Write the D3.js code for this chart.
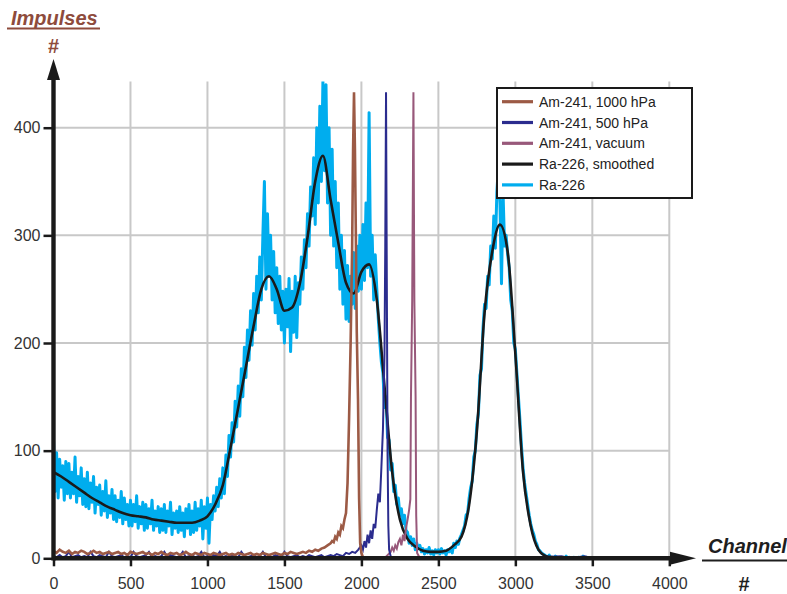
<!DOCTYPE html>
<html>
<head>
<meta charset="utf-8">
<script src="https://cdn.jsdelivr.net/npm/d3@7"></script>
<style>
  body { margin: 0; background: #fff; }
  svg { display: block; font-family: 'Liberation Sans', Arial, sans-serif; }
</style>
</head>
<body>
<svg id="chart"></svg>
<script>
// tick labels
const xTicks = [0, 500, 1000, 1500, 2000, 2500, 3000, 3500, 4000];
const yTicks = [0, 100, 200, 300, 400];

// Ra-226 raw spectrum, one value every 10 channels from 0
const raCounts = [
  110, 62, 98, 56, 92, 66, 86, 54, 90, 60,
  88, 56, 80, 60, 94, 52, 76, 58, 84, 50,
  74, 48, 80, 46, 70, 52, 76, 42, 66, 50,
  68, 40, 62, 44, 72, 38, 58, 42, 64, 36,
  58, 34, 54, 38, 62, 32, 56, 36, 50, 30,
  54, 30, 50, 34, 58, 28, 48, 32, 52, 26,
  50, 28, 46, 32, 54, 26, 44, 30, 48, 24,
  46, 26, 50, 24, 44, 30, 52, 22, 42, 28,
  44, 24, 48, 26, 42, 20, 46, 28, 50, 22,
  44, 24, 52, 26, 46, 30, 54, 18, 48, 28,
  56, 14, 50, 36, 58, 44, 66, 48, 74, 56,
  84, 60, 96, 76, 114, 94, 126, 108, 146, 122,
  160, 132, 176, 150, 196, 168, 212, 184, 230, 198,
  246, 212, 262, 228, 280, 240, 300, 350, 250, 320,
  262, 300, 240, 285, 228, 270, 218, 262, 212, 248,
  200, 250, 215, 260, 192, 248, 210, 262, 205, 256,
  236, 280, 250, 296, 270, 320, 290, 345, 318, 372,
  310, 400, 330, 420, 350, 443, 360, 440, 330, 400,
  300, 380, 290, 350, 270, 330, 250, 300, 236, 286,
  222, 272, 220, 262, 236, 284, 232, 290, 248, 300,
  250, 310, 258, 330, 270, 414, 262, 300, 240, 282,
  250, 222, 200, 182, 172, 140, 150, 112, 110, 82,
  88, 62, 68, 50, 56, 40, 46, 32, 40, 26,
  24, 14, 20, 12, 18, 8, 14, 9, 12, 6,
  9, 4, 8, 5, 10, 4, 7, 3, 8, 5,
  8, 4, 9, 5, 7, 3, 8, 6, 9, 5,
  14, 10, 16, 13, 19, 22, 26, 30, 40, 42,
  56, 66, 72, 94, 100, 124, 134, 170, 176, 214,
  236, 232, 262, 254, 290, 278, 318, 288, 340, 365,
  330, 255, 340, 290, 300, 282, 270, 240, 230, 200,
  194, 172, 150, 128, 104, 84, 70, 60, 50, 40,
  32, 26, 22, 16, 13, 8, 7, 5, 4, 3,
  2, 1, 3, 0, 1, 0, 2, 1, 0, 1,
  0, 1, 0, 2, 0, 1, 0, 0, 1, 0,
  0, 1, 0, 0, 2, 0, 1, 0, 0, 0
];
const raChannels = raCounts.map((_, i) => i * 10);

// Ra-226 smoothed, every 50 channels from 0
const smoothCounts = [
  80, 76, 71, 66, 61, 56, 52, 48, 45, 42,
  40, 39, 38, 36, 35, 34, 33, 33, 33, 35,
  39, 50, 68, 103, 140, 178, 216, 250, 262, 250,
  230, 233, 255, 298, 350, 374, 333, 293, 256, 246,
  266, 273, 240, 160, 80, 36, 18, 11, 7, 6,
  6, 7, 12, 20, 50, 118, 228, 285, 310, 285,
  190, 80, 30, 8, 2, 1, 0
];
const smoothChannels = smoothCounts.map((_, i) => i * 50);

// Am-241 at 1000 hPa
const am1000Channels = [
  0, 20, 40, 60, 80, 100, 120, 140, 160, 180, 200, 220, 240, 260, 280, 300, 320, 340, 360, 380,
  400, 420, 440, 460, 480, 500, 520, 540, 560, 580, 600, 620, 640, 660, 680, 700, 720, 740, 760, 780,
  800, 820, 840, 860, 880, 900, 920, 940, 960, 980, 1000, 1020, 1040, 1060, 1080, 1100, 1120, 1140, 1160, 1180,
  1200, 1220, 1240, 1260, 1280, 1300, 1320, 1340, 1360, 1380, 1400, 1420, 1440, 1460, 1480, 1500, 1520, 1540, 1560, 1580,
  1600, 1620, 1640, 1660, 1680, 1700, 1720, 1740, 1760, 1780,
  1800, 1810, 1820, 1830, 1840, 1850, 1860, 1870, 1880, 1890, 1900, 1910, 1920, 1930, 1940, 1946,
  1952, 1958, 1964, 1970, 1978, 1985, 1992, 2000, 2010, 2030
];
const am1000Counts = [
  7, 5, 8, 6, 5, 7, 4, 6, 5, 7, 6, 4, 5, 7, 5, 6, 4, 5, 6, 4,
  5, 6, 4, 5, 3, 6, 5, 4, 5, 6, 4, 5, 3, 5, 4, 6, 4, 3, 5, 4,
  5, 3, 4, 6, 4, 3, 5, 4, 3, 5, 4, 3, 5, 4, 3, 4, 5, 3, 4, 3,
  5, 4, 3, 4, 5, 3, 4, 3, 5, 4, 3, 4, 5, 4, 3, 5, 4, 6, 5, 4,
  5, 6, 5, 7, 6, 8, 7, 9, 10, 12,
  14, 16, 15, 20, 18, 24, 22, 30, 28, 36, 42, 70, 130, 200, 290, 380,
  433, 380, 300, 210, 148, 56, 14, 5, 1, 0
];

// Am-241 at 500 hPa
const am500Channels = [
  0, 20, 40, 60, 80, 100, 120, 140, 160, 180, 200, 220, 240, 260, 280, 300, 320, 340, 360, 380,
  400, 420, 440, 460, 480, 500, 520, 540, 560, 580, 600, 620, 640, 660, 680, 700, 720, 740, 760, 780,
  800, 820, 840, 860, 880, 900, 920, 940, 960, 980, 1000, 1020, 1040, 1060, 1080, 1100, 1120, 1140, 1160, 1180,
  1200, 1220, 1240, 1260, 1280, 1300, 1320, 1340, 1360, 1380, 1400, 1420, 1440, 1460, 1480, 1500, 1520, 1540, 1560, 1580,
  1600, 1620, 1640, 1660, 1680, 1700, 1720, 1740, 1760, 1780, 1800, 1820, 1840, 1860, 1880, 1900, 1920, 1940, 1960, 1980,
  2000, 2010, 2020, 2030, 2040, 2050, 2060, 2070, 2080, 2090, 2100, 2110, 2120, 2130, 2140, 2150,
  2155, 2160, 2165, 2170, 2175, 2180, 2190, 2200, 2400, 2700, 3000, 3300, 3350, 3400, 3450, 3500, 3600, 4000
];
const am500Counts = [
  2, 1, 3, 1, 2, 6, 1, 2, 3, 1, 2, 1, 6, 2, 1, 3, 2, 1, 6, 2,
  1, 2, 3, 1, 2, 1, 6, 2, 1, 2, 3, 6, 1, 2, 1, 2, 6, 1, 3, 2,
  1, 2, 6, 1, 2, 3, 1, 2, 6, 1, 2, 1, 3, 2, 6, 1, 2, 1, 3, 2,
  1, 6, 2, 1, 2, 3, 1, 2, 6, 1, 2, 1, 3, 2, 1, 6, 2, 1, 2, 3,
  1, 2, 1, 3, 2, 1, 2, 3, 1, 2, 3, 2, 4, 3, 2, 5, 4, 6, 5, 8,
  12, 8, 16, 10, 22, 14, 26, 18, 32, 28, 45, 60, 52, 85, 120, 190,
  290, 433, 260, 95, 30, 8, 2, 0, 1, 0, 0, 2, 0, 1, 2, 0, 1, 0
];

// Am-241 in vacuum
const amVacChannels = [
  2150, 2170, 2190, 2200, 2210, 2220, 2230, 2240, 2250, 2260, 2270, 2280, 2290, 2300, 2310, 2318,
  2322, 2330, 2338, 2344, 2352, 2356, 2362, 2380, 2400
];
const amVacCounts = [
  0, 3, 6, 10, 7, 12, 9, 15, 18, 12, 22, 16, 28, 36, 45, 55,
  150, 240, 433, 240, 150, 40, 5, 0, 0
];

const legendLabels = ['Am-241, 1000 hPa', 'Am-241, 500 hPa', 'Am-241, vacuum', 'Ra-226, smoothed', 'Ra-226'];
const legendColors = ['#9c5a45', '#2b2c8e', '#98587a', '#1a1a1a', '#00adee'];

const w = 787;
const h = 594;
const svg = d3.select('#chart').attr('width', w).attr('height', h);

const x = d3.scaleLinear().domain([0, 4000]).range([53.5, 669.3]);
const y = d3.scaleLinear().domain([0, 400]).range([558.3, 127.7]);
const yTop = y(443);

svg.append('defs').append('clipPath').attr('id', 'plot')
  .append('rect').attr('x', x(0)).attr('y', yTop).attr('width', x(4000) - x(0) + 30).attr('height', y(0) - yTop);

// grid
const grid = svg.append('g').attr('stroke', '#c8c8c8').attr('stroke-width', 2);
grid.selectAll('.vg').data(xTicks.slice(1)).enter().append('line')
  .attr('x1', (d) => x(d)).attr('x2', (d) => x(d)).attr('y1', yTop).attr('y2', y(0));
grid.selectAll('.hg').data(yTicks.slice(1)).enter().append('line')
  .attr('x1', x(0)).attr('x2', x(4000)).attr('y1', (d) => y(d)).attr('y2', (d) => y(d));

const plot = svg.append('g').attr('clip-path', 'url(#plot)');
const line = d3.line().x((d) => x(d[0])).y((d) => y(d[1]));
const zip = (a, b) => a.map((c, i) => [c, b[i]]);

plot.append('path').datum(zip(raChannels, raCounts))
  .attr('d', line).attr('fill', 'none').attr('stroke', legendColors[4]).attr('stroke-width', 3)
  .attr('stroke-linejoin', 'round');
plot.append('path').datum(zip(smoothChannels, smoothCounts))
  .attr('d', line.curve(d3.curveMonotoneX)).attr('fill', 'none').attr('stroke', legendColors[3])
  .attr('stroke-width', 2.6);
line.curve(d3.curveLinear);
plot.append('path').datum(zip(amVacChannels, amVacCounts))
  .attr('d', line).attr('fill', 'none').attr('stroke', legendColors[2]).attr('stroke-width', 2);
plot.append('path').datum(zip(am500Channels, am500Counts))
  .attr('d', line).attr('fill', 'none').attr('stroke', legendColors[1]).attr('stroke-width', 2);
plot.append('path').datum(zip(am1000Channels, am1000Counts))
  .attr('d', line).attr('fill', 'none').attr('stroke', legendColors[0]).attr('stroke-width', 2.6);

// axes
const xAxis = d3.axisBottom(x).tickValues(xTicks).tickSize(8).tickPadding(8).tickFormat(d3.format('d'));
const yAxis = d3.axisLeft(y).tickValues(yTicks).tickSize(10).tickPadding(3).tickFormat(d3.format('d'));
const gx = svg.append('g').attr('transform', `translate(0,${y(0)})`).call(xAxis);
const gy = svg.append('g').attr('transform', `translate(${x(0)},0)`).call(yAxis);
[gx, gy].forEach((g) => {
  g.select('.domain').remove();
  g.selectAll('.tick line').attr('stroke', '#1a1a1a').attr('stroke-width', 2.5);
  g.selectAll('.tick text').attr('fill', '#333').style('font-size', '16px');
});
gx.selectAll('.tick text').attr('dy', '0.9em');

svg.append('line').attr('x1', x(0)).attr('x2', 672).attr('y1', y(0)).attr('y2', y(0))
  .attr('stroke', '#1a1a1a').attr('stroke-width', 4.6);
svg.append('line').attr('x1', x(0)).attr('x2', x(0)).attr('y1', y(0) + 2.3).attr('y2', 78)
  .attr('stroke', '#1a1a1a').attr('stroke-width', 4.4);
svg.append('path').attr('d', `M670,${y(0) - 6.5}L696,${y(0)}L670,${y(0) + 6.5}Z`).attr('fill', '#1a1a1a');
svg.append('path').attr('d', `M${x(0) - 6.5},80L${x(0)},59L${x(0) + 6.5},80Z`).attr('fill', '#1a1a1a');

// axis titles
const titleStyle = (t) => t.style('font-size', '20px').style('font-weight', 'bold');
titleStyle(svg.append('text').attr('x', 11).attr('y', 25).attr('fill', '#8e4b3c')
  .style('font-style', 'italic').text('Impulses'));
svg.append('line').attr('x1', 7).attr('x2', 100).attr('y1', 28.5).attr('y2', 28.5)
  .attr('stroke', '#8e4b3c').attr('stroke-width', 2);
titleStyle(svg.append('text').attr('x', x(0)).attr('y', 53).attr('text-anchor', 'middle')
  .attr('fill', '#8e4b3c').text('#'));
titleStyle(svg.append('text').attr('x', 708).attr('y', 552.5).attr('fill', '#1e1e1e')
  .style('font-style', 'italic').text('Channel'));
svg.append('line').attr('x1', 702).attr('x2', 787).attr('y1', 560.5).attr('y2', 560.5)
  .attr('stroke', '#1e1e1e').attr('stroke-width', 2);
titleStyle(svg.append('text').attr('x', 744).attr('y', 590.5).attr('text-anchor', 'middle')
  .attr('fill', '#1e1e1e').text('#'));

// legend
const lg = svg.append('g');
lg.append('rect').attr('x', 497).attr('y', 88).attr('width', 195).attr('height', 110)
  .attr('fill', '#fff').attr('stroke', '#1a1a1a').attr('stroke-width', 2);
const rows = lg.selectAll('.row').data(legendLabels).enter().append('g')
  .attr('transform', (d, i) => `translate(0,${101.7 + i * 20.8})`);
rows.append('line').attr('x1', 502).attr('x2', 533)
  .attr('stroke', (d, i) => legendColors[i]).attr('stroke-width', 3.2);
rows.append('text').attr('x', 539).attr('dy', '0.36em').attr('fill', '#222')
  .style('font-size', '14px').text((d) => d);
</script>
</body>
</html>
